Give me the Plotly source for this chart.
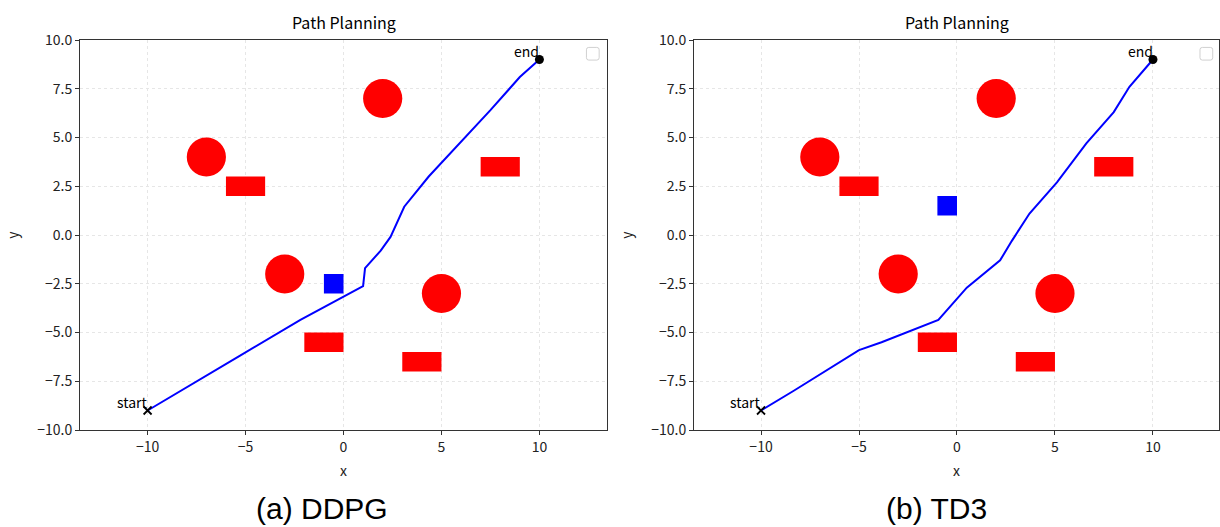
import plotly.graph_objects as go

# ---- scene ----
circle_centers = [(-7, 4), (2, 7), (-3, -2), (5, -3)]
circle_radius = 1.0
red_rects = [(-6, -4, 2, 3), (7, 9, 3, 4), (-2, 0, -6, -5), (3, 5, -7, -6)]  # x0, x1, y0, y1
blue_square_ddpg = (-1, 0, -3, -2)
blue_square_td3 = (-1, 0, 1, 2)

start_pt = (-10, -9)
end_pt = (10, 9)

# ---- trajectories ----
ddpg_x = [-10, -8.3, -5.3, -2.2, -0.3, 1.0, 1.1, 1.9, 2.4, 3.1, 4.35, 5.8, 7.5, 9.0, 10]
ddpg_y = [-9, -8.0, -6.2, -4.35, -3.3, -2.62, -1.7, -0.8, -0.1, 1.45, 3.0, 4.55, 6.4, 8.1, 9]

td3_x = [-10, -8.35, -5.0, -3.85, -0.95, 0.5, 2.2, 2.8, 3.7, 5.1, 6.6, 8.0, 8.8, 10]
td3_y = [-9, -8.0, -5.9, -5.5, -4.35, -2.7, -1.3, -0.3, 1.1, 2.7, 4.7, 6.3, 7.6, 9]

x_ticks = [-10, -5, 0, 5, 10]
x_tick_text = ["\u221210", "\u22125", "0", "5", "10"]
y_ticks = [-10, -7.5, -5, -2.5, 0, 2.5, 5, 7.5, 10]
y_tick_text = ["\u221210.0", "\u22127.5", "\u22125.0", "\u22122.5", "0.0", "2.5", "5.0", "7.5", "10.0"]

panel_titles = ["Path Planning", "Path Planning"]
captions = ["(a) DDPG", "(b) TD3"]

W, H = 1220, 527
FONT = "Noto Sans CJK SC"

fig = go.Figure()

panels = [
    dict(xa="x", ya="y", xdom=[80 / W, 607 / W], path=(ddpg_x, ddpg_y), blue=blue_square_ddpg,
         xr=[-13.45, 13.45], cap_x=322 / W),
    dict(xa="x2", ya="y2", xdom=[694 / W, 1219 / W], path=(td3_x, td3_y), blue=blue_square_td3,
         xr=[-13.42, 13.37], cap_x=936 / W),
]
ydom = [(H - 430) / H, (H - 40) / H]

shapes = []
annotations = []
for i, p in enumerate(panels):
    xa, ya = p["xa"], p["ya"]
    # obstacles
    for cx, cy in circle_centers:
        shapes.append(dict(type="circle", xref=xa, yref=ya,
                           x0=cx - circle_radius, x1=cx + circle_radius,
                           y0=cy - circle_radius, y1=cy + circle_radius,
                           fillcolor="#ff0000", line=dict(width=0), layer="between"))
    for x0, x1, y0, y1 in red_rects:
        shapes.append(dict(type="rect", xref=xa, yref=ya, x0=x0, x1=x1, y0=y0, y1=y1,
                           fillcolor="#ff0000", line=dict(width=0), layer="between"))
    bx0, bx1, by0, by1 = p["blue"]
    shapes.append(dict(type="rect", xref=xa, yref=ya, x0=bx0, x1=bx1, y0=by0, y1=by1,
                       fillcolor="#0000ff", line=dict(width=0), layer="between"))
    # empty legend frame in the upper-right corner
    lx0, lx1, ly0, ly1 = 12.4, 13.05, 8.97, 9.62
    r = 0.12
    shapes.append(dict(type="path", xref=xa, yref=ya,
                       path=(f"M{lx0 + r},{ly0} L{lx1 - r},{ly0} Q{lx1},{ly0} {lx1},{ly0 + r} "
                             f"L{lx1},{ly1 - r} Q{lx1},{ly1} {lx1 - r},{ly1} L{lx0 + r},{ly1} "
                             f"Q{lx0},{ly1} {lx0},{ly1 - r} L{lx0},{ly0 + r} Q{lx0},{ly0} {lx0 + r},{ly0} Z"),
                       line=dict(color="#d0d0d0", width=1), fillcolor="white", layer="above"))

    px, py = p["path"]
    fig.add_trace(go.Scatter(x=px, y=py, mode="lines", line=dict(color="#0000ff", width=2),
                             xaxis=xa, yaxis=ya, showlegend=False, hoverinfo="skip"))
    fig.add_trace(go.Scatter(x=[start_pt[0]], y=[start_pt[1]], mode="markers",
                             marker=dict(symbol="x-thin", size=8, line=dict(color="black", width=1.8)),
                             xaxis=xa, yaxis=ya, showlegend=False, hoverinfo="skip"))
    fig.add_trace(go.Scatter(x=[end_pt[0]], y=[end_pt[1]], mode="markers",
                             marker=dict(symbol="circle", size=9, color="black"),
                             xaxis=xa, yaxis=ya, showlegend=False, hoverinfo="skip"))

    annotations.append(dict(x=start_pt[0], y=start_pt[1], xref=xa, yref=ya, text="start",
                            showarrow=False, xanchor="right", yanchor="bottom", xshift=2, yshift=-3,
                            font=dict(family=FONT, size=14, color="black")))
    annotations.append(dict(x=end_pt[0], y=end_pt[1], xref=xa, yref=ya, text="end",
                            showarrow=False, xanchor="right", yanchor="bottom", xshift=2, yshift=-3,
                            font=dict(family=FONT, size=14, color="black")))
    # panel title
    annotations.append(dict(x=sum(p["xdom"]) / 2, y=(H - 22) / H, xref="paper", yref="paper",
                            text=panel_titles[i], showarrow=False, xanchor="center", yanchor="middle",
                            font=dict(family=FONT, size=16, color="black")))
    # caption
    annotations.append(dict(x=p["cap_x"], y=(H - 508) / H, xref="paper", yref="paper",
                            text=captions[i], showarrow=False, xanchor="center", yanchor="middle",
                            font=dict(family="Liberation Sans, Arial", size=30, color="black")))

    axis_common = dict(showline=True, mirror=True, linecolor="#333333", linewidth=1,
                       ticks="outside", ticklen=4, tickcolor="#333333", automargin=False,
                       showgrid=True, gridcolor="#e6e6e6", griddash="dot", gridwidth=1,
                       zeroline=False, tickfont=dict(family=FONT, size=14, color="#222222"),
                       title_font=dict(family=FONT, size=14, color="#222222"))
    xkey = "xaxis" if i == 0 else "xaxis2"
    ykey = "yaxis" if i == 0 else "yaxis2"
    fig.update_layout({
        xkey: dict(domain=p["xdom"], range=p["xr"], anchor=ya, tickvals=x_ticks, ticktext=x_tick_text,
                   title=dict(text="x", standoff=11), **axis_common),
        ykey: dict(domain=ydom, range=[-10, 10], anchor=xa, tickvals=y_ticks, ticktext=y_tick_text,
                   title=dict(text="y", standoff=15), **axis_common),
    })

fig.update_layout(width=W, height=H, margin=dict(l=0, r=0, t=0, b=0),
                  paper_bgcolor="white", plot_bgcolor="white",
                  shapes=shapes, annotations=annotations, showlegend=False)

fig.write_html("out.html")
